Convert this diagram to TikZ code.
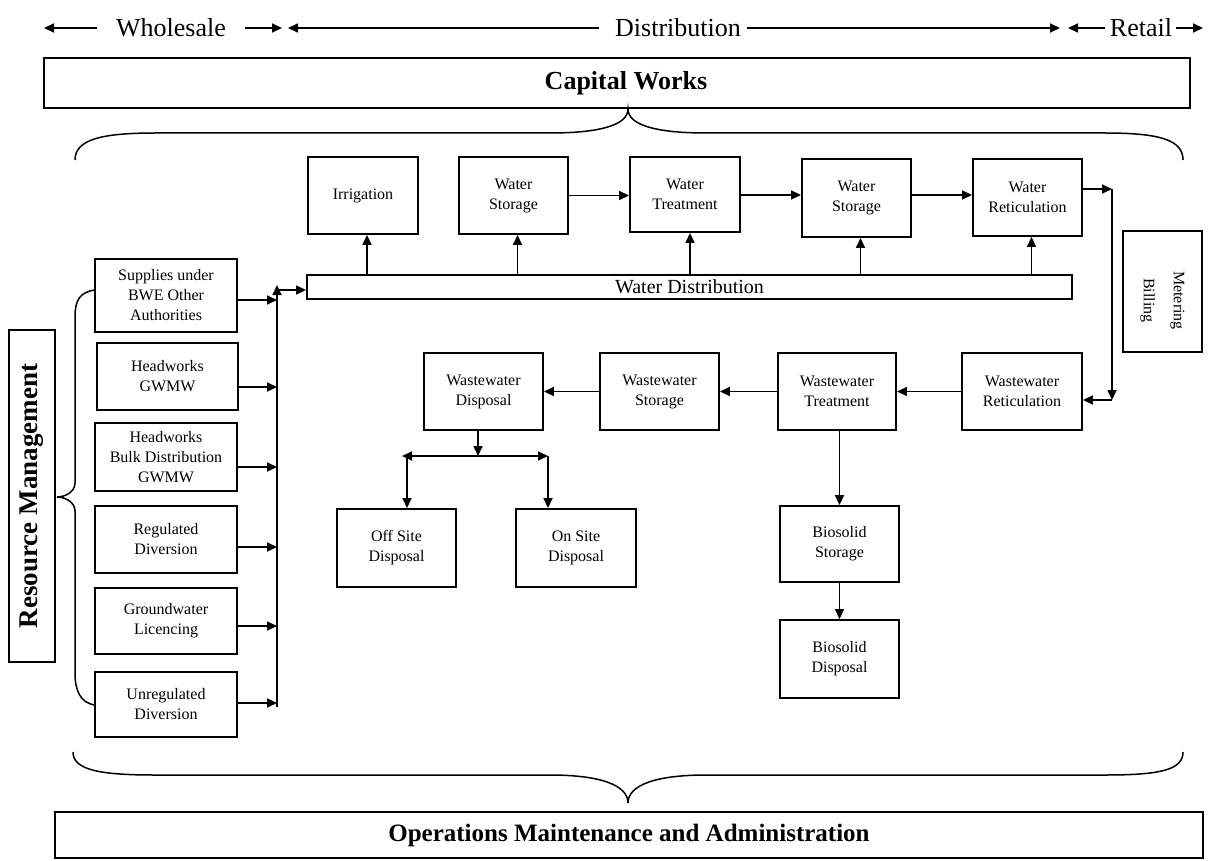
\documentclass[tikz,border=0pt]{standalone}
\usepackage{fontspec}
\setmainfont{Liberation Serif}
\usetikzlibrary{arrows.meta}

\begin{document}
\begin{tikzpicture}[x=1pt,y=-1pt,
  box/.style={draw, line width=1.9pt, inner sep=2pt, align=center,
              font=\fontsize{16}{20}\selectfont},
  arr/.style={line width=1.7pt, -{Triangle[length=10pt,width=9pt]}},
  dbl/.style={line width=1.7pt, {Triangle[length=10pt,width=9pt]}-{Triangle[length=10pt,width=9pt]}},
  brace/.style={line width=1.5pt},
  head/.style={font=\fontsize{26}{30}\selectfont, inner sep=0pt},
]
\useasboundingbox (0,0) rectangle (1212,861);

% ---- header: market segments ----
\node[head] (whl) at (171,28) {Wholesale};
\node[head] (dst) at (678,28) {Distribution};
\node[head] (rtl) at (1141,28) {Retail};
\coordinate (w0) at (97,28);   \coordinate (wl) at (44,28);
\coordinate (w1) at (245,28);  \coordinate (wr) at (282,28);
\coordinate (d0) at (599,28);  \coordinate (dl) at (288,28);
\coordinate (d1) at (747,28);  \coordinate (dr) at (1060,28);
\coordinate (r0) at (1105,28); \coordinate (rl) at (1068,28);
\coordinate (r1) at (1176,28); \coordinate (rr) at (1203,28);
\draw[arr] (w0) -- (wl);
\draw[arr] (w1) -- (wr);
\draw[arr] (d0) -- (dl);
\draw[arr] (d1) -- (dr);
\draw[arr] (r0) -- (rl);
\draw[arr] (r1) -- (rr);

% ---- capital works and operations ----
\node[box, minimum width=1146, minimum height=50,
      font=\bfseries\fontsize{26}{30}\selectfont] (cap) at (617,83)
      {\hspace*{18pt}Capital Works};
\node[box, minimum width=1148, minimum height=46,
      font=\bfseries\fontsize{25}{30}\selectfont] (ops) at (629,835)
      {Operations Maintenance and Administration};

% braces
\draw[brace] (75,160) .. controls (75,140) and (100,133) .. (155,133) -- (550,133)
  .. controls (600,133) and (628,125) .. (628,109)
  .. controls (628,125) and (656,133) .. (706,133) -- (1105,133)
  .. controls (1160,133) and (1183,140) .. (1183,160);
\draw[brace] (73,752) .. controls (73,770) and (100,775) .. (155,775) -- (550,775)
  .. controls (600,775) and (628,785) .. (628,803)
  .. controls (628,785) and (656,775) .. (706,775) -- (1105,775)
  .. controls (1160,775) and (1183,770) .. (1183,752);
\draw[brace] (95,290) .. controls (80,292) and (75,300) .. (75,317) -- (75,483)
  .. controls (75,492) and (65,497) .. (57,497)
  .. controls (65,497) and (75,502) .. (75,511) -- (75,673)
  .. controls (75,690) and (80,703) .. (95,705);

% ---- resource management ----
\node[box, rotate=90, minimum width=332, minimum height=46,
      font=\bfseries\fontsize{27}{30}\selectfont] (rm) at (32,496) {Resource Management};

\node[box, minimum width=142, minimum height=73] (sup) at (166,295.5) {Supplies under\\BWE Other\\Authorities};
\node[box, minimum width=141, minimum height=67] (hgw) at (167.5,376.5) {Headworks\\GWMW};
\node[box, minimum width=142, minimum height=68] (hbd) at (166,457) {Headworks\\Bulk Distribution\\GWMW};
\node[box, minimum width=142, minimum height=67] (reg) at (166,539.5) {Regulated\\Diversion};
\node[box, minimum width=142, minimum height=66] (gwl) at (166,621) {Groundwater\\Licencing};
\node[box, minimum width=142, minimum height=65] (unr) at (166,704.5) {Unregulated\\Diversion};

\coordinate (bt) at (277,285);
\coordinate (bb) at (277,707);
\draw[arr] (bb) -- (bt);
\draw[arr] ([yshift=-4.5]sup.east) -- ([yshift=-4.5]sup.east -| bt);
\draw[arr] ([yshift=-10.5]hgw.east) -- ([yshift=-10.5]hgw.east -| bt);
\draw[arr] ([yshift=-10]hbd.east) -- ([yshift=-10]hbd.east -| bt);
\draw[arr] ([yshift=-7.5]reg.east) -- ([yshift=-7.5]reg.east -| bt);
\draw[arr] ([yshift=-5]gwl.east) -- ([yshift=-5]gwl.east -| bt);
\draw[arr] ([yshift=1.5]unr.east) -- ([yshift=1.5]unr.east -| bt);

% ---- water supply ----
\node[box, minimum width=765, minimum height=24, inner sep=0pt,
      font=\fontsize{20}{24}\selectfont] (wd) at (689.5,287) {Water Distribution};
\draw[arr] ([yshift=-3]bt |- wd.west) -- ([yshift=-3]wd.west);

\node[box, minimum width=110, minimum height=77] (irr) at (363,195.5) {Irrigation};
\node[box, minimum width=109, minimum height=77] (ws1) at (513.5,195.5) {Water\\Storage};
\node[box, minimum width=110, minimum height=75] (wt)  at (685,194.5) {Water\\Treatment};
\node[box, minimum width=109, minimum height=78] (ws2) at (856.5,198) {Water\\Storage};
\node[box, minimum width=109, minimum height=77] (wr)  at (1027.5,197.5) {Water\\Reticulation};

\draw[arr] ([xshift=4]irr.south |- wd.north) -- ([xshift=4]irr.south);
\draw[arr] ([xshift=4]ws1.south |- wd.north) -- ([xshift=4]ws1.south);
\draw[arr] ([xshift=5]wt.south |- wd.north) -- ([xshift=5]wt.south);
\draw[arr] ([xshift=4]ws2.south |- wd.north) -- ([xshift=4]ws2.south);
\draw[arr] ([xshift=4]wr.south |- wd.north) -- ([xshift=4]wr.south);

\draw[arr] (ws1.east) -- (ws1.east -| wt.west);
\draw[arr] ([yshift=-0.5]wt.east) -- ([yshift=-0.5]wt.east -| ws2.west);
\draw[arr] ([yshift=3]ws2.east) -- ([yshift=3]ws2.east -| wr.west);

% ---- metering and billing ----
\node[box, rotate=-90, minimum width=121, minimum height=79,
      font=\fontsize{16}{30}\selectfont] (mb) at (1162.5,291.5)
      {\hspace*{18pt}Metering\\\hspace*{18pt}Billing};

\coordinate (c1) at (1112,189);
\coordinate (c2) at (1112,400);
\draw[arr] ([yshift=8.5]wr.east) -- (c1);
\draw[arr] (c1) -- (c2);

% ---- wastewater ----
\node[box, minimum width=119, minimum height=77] (wwd) at (483.5,391.5) {Wastewater\\Disposal};
\node[box, minimum width=119, minimum height=77] (wws) at (659.5,391.5) {Wastewater\\Storage};
\node[box, minimum width=118, minimum height=77] (wwt) at (837,391.5) {Wastewater\\Treatment};
\node[box, minimum width=120, minimum height=77] (wwr) at (1022,391.5) {Wastewater\\Reticulation};

\draw[arr] (c2) -- (c2 -| wwr.east);
\draw[arr] (wwr.west) -- (wwt.east);
\draw[arr] (wwt.west) -- (wws.east);
\draw[arr] (wws.west) -- (wwd.east);

\node[box, minimum width=119, minimum height=76] (bs) at (839.5,544) {Biosolid\\Storage};
\node[box, minimum width=119, minimum height=78] (bd) at (839.5,659) {Biosolid\\Disposal};
\draw[arr] (bs.north |- wwt.south) -- (bs.north);
\draw[arr] (bs.south) -- (bd.north);

\node[box, minimum width=119, minimum height=78] (off) at (396.5,548) {Off Site\\Disposal};
\node[box, minimum width=120, minimum height=78] (on)  at (576,548) {On Site\\Disposal};

\coordinate (hl) at (402,456);
\coordinate (hr) at (548,456);
\coordinate (dlft) at (407,456);
\draw[arr] ([xshift=-5.5]wwd.south) -- ([xshift=-5.5]wwd.south |- hl);
\draw[dbl] (hl) -- (hr);
\draw[arr] (dlft) -- (dlft |- off.north);
\draw[arr] (hr) -- (hr |- on.north);

\end{tikzpicture}
\end{document}
